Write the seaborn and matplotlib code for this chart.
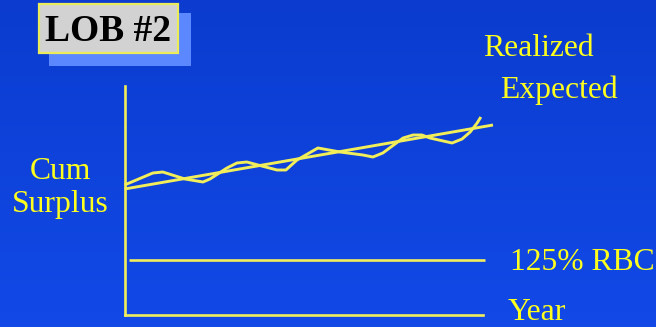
import numpy as np
import pandas as pd
import matplotlib
matplotlib.use("Agg")
import matplotlib.pyplot as plt
from matplotlib.patches import Rectangle
import seaborn as sns

# Realized cumulative surplus path (year, surplus)
realized_year = [0.0, 0.77, 1.04, 1.64, 2.13, 2.32, 2.78, 3.05, 3.32, 3.62, 4.14,
                 4.38, 4.68, 5.25, 5.85, 6.47, 6.74, 7.01, 7.56, 7.83, 8.07, 8.29,
                 8.89, 9.16, 9.38, 9.57, 9.67]
realized_surplus = [13.03, 14.23, 14.33, 13.63, 13.33, 13.63, 14.73, 15.23, 15.33,
                    15.03, 14.53, 14.53, 15.53, 16.73, 16.33, 16.03, 15.83, 16.23,
                    17.73, 18.03, 18.03, 17.73, 17.23, 17.63, 18.33, 19.23, 19.83]

# Expected surplus trend
expected_year = [0.0, 10.0]
expected_surplus = [12.63, 19.03]

# Regulatory threshold (125% of risk-based capital)
rbc_year = [0.12, 9.78]
rbc_level = [5.53, 5.53]

# Extent of the year axis line
year_axis_end = 9.73

title_text = "LOB #2"
y_label_lines = ["Cum", "Surplus"]
legend_labels = ["Realized", "Expected"]
rbc_label = "125% RBC"
x_label = "Year"

W, H = 656, 327
LINE = "#f2ee5a"
TEXT = "#ffff1e"

sns.set_theme(style="white")
plt.rcParams["font.family"] = ["Liberation Serif", "DejaVu Serif"]

fig = plt.figure(figsize=(W / 100, H / 100), dpi=100)

# Slide background: vertical blue gradient
bg = fig.add_axes([0, 0, 1, 1], zorder=0)
grad = np.linspace(0, 1, 256).reshape(-1, 1)
top = np.array([0x0b, 0x3c, 0xcf]) / 255
bot = np.array([0x12, 0x49, 0xe7]) / 255
img = top[None, None, :] * (1 - grad[..., None]) + bot[None, None, :] * grad[..., None]
bg.imshow(img, aspect="auto", extent=[0, 1, 0, 1])
bg.set_axis_off()


def fx(px):
    return px / W


def fy(py):
    return 1 - py / H


# Plot area
left, right, top_px, bottom_px = 124.5, 493.0, 86.0, 315.3
ax = fig.add_axes([fx(left), fy(bottom_px), fx(right) - fx(left),
                   (bottom_px - top_px) / H], zorder=2)
ax.patch.set_alpha(0)
ax.set_xlim(0, 10)
ax.set_ylim(0, (bottom_px - top_px) / 10)

realized = pd.DataFrame({"year": realized_year, "surplus": realized_surplus})
expected = pd.DataFrame({"year": expected_year, "surplus": expected_surplus})
rbc = pd.DataFrame({"year": rbc_year, "surplus": rbc_level})

for df in (realized, expected, rbc):
    lw = 1.9 if df is rbc else 2.1
    sns.lineplot(data=df, x="year", y="surplus", sort=False, ax=ax, color=LINE,
                 linewidth=lw, solid_joinstyle="round", solid_capstyle="butt",
                 clip_on=False)

for side in ("top", "right"):
    ax.spines[side].set_visible(False)
for side in ("left", "bottom"):
    ax.spines[side].set_color(LINE)
    ax.spines[side].set_linewidth(1.9)
ax.spines["bottom"].set_bounds(0, year_axis_end)
ax.set_xticks([])
ax.set_yticks([])
ax.set_xlabel("")
ax.set_ylabel("")

# Title box with drop shadow
fig.patches.append(Rectangle((fx(49), fy(66)), fx(191) - fx(49), (66 - 13) / H,
                             transform=fig.transFigure, facecolor="#5b88ff",
                             edgecolor="none", zorder=3))
fig.patches.append(Rectangle((fx(39), fy(53)), fx(178) - fx(39), (53 - 4) / H,
                             transform=fig.transFigure, facecolor="#d2d2d2",
                             edgecolor="#ecec5a", linewidth=1.6, zorder=4))
fig.text(fx(108.5), fy(41), title_text, ha="center", va="baseline", fontsize=27,
         fontweight="bold", color="black", zorder=5)

fs = 22.8
fig.text(fx(60), fy(179), y_label_lines[0], ha="center", va="baseline",
         fontsize=fs, color=TEXT, zorder=5)
fig.text(fx(60), fy(212), y_label_lines[1], ha="center", va="baseline",
         fontsize=fs, color=TEXT, zorder=5)
fig.text(fx(483), fy(56), legend_labels[0], ha="left", va="baseline",
         fontsize=fs, color=TEXT, zorder=5)
fig.text(fx(500), fy(98), legend_labels[1], ha="left", va="baseline",
         fontsize=fs, color=TEXT, zorder=5)
fig.text(fx(510), fy(270), rbc_label, ha="left", va="baseline",
         fontsize=fs, color=TEXT, zorder=5)
fig.text(fx(508), fy(320), x_label, ha="left", va="baseline",
         fontsize=fs, color=TEXT, zorder=5)

fig.savefig("out.png", dpi=100)
